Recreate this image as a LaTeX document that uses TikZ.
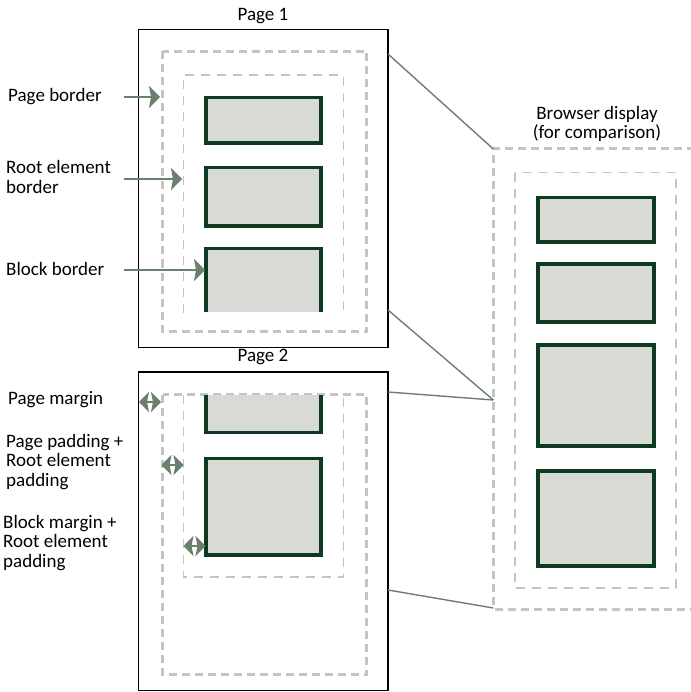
\documentclass[tikz,border=0pt]{standalone}
\usepackage{fontspec}
\setmainfont{Carlito}
\usetikzlibrary{arrows.meta}

\definecolor{blockgreen}{HTML}{0E3B20}
\definecolor{blockfill}{HTML}{D8DAD5}
\definecolor{dashgray}{HTML}{C4C4C4}
\definecolor{pointgreen}{HTML}{6B806C}

\begin{document}
\begin{tikzpicture}[x=1pt, y=-1pt,
    page/.style={draw=black, line width=1.6pt},
    outerdash/.style={draw=dashgray, line width=3pt, dash pattern=on 8pt off 5pt},
    innerdash/.style={draw=dashgray, line width=1.6pt, dash pattern=on 9pt off 7pt},
    block/.style={draw=blockgreen, line width=3.6pt},
    blockbg/.style={fill=blockfill},
    lbl/.style={font=\fontsize{19}{19.8}\selectfont, align=left, anchor=west, inner sep=0pt},
    title/.style={font=\fontsize{19}{19}\selectfont, align=center, inner sep=0pt},
    pointer/.style={draw=pointgreen, line width=1.6pt, -{Stealth[length=11pt, width=22pt, inset=2pt]}},
    gap/.style={draw=pointgreen, line width=1.6pt, {Stealth[length=10pt, width=20pt, inset=2pt]}-{Stealth[length=10pt, width=20pt, inset=2pt]}},
    link/.style={draw=pointgreen, line width=1.4pt}]
    \useasboundingbox (0,0) rectangle (690,692);

    % Page 1
    \node[title] (p1title) at (263,16) {Page 1};
    \draw[page] (138.5,29.5) rectangle (388,347.5);
    \draw[outerdash] (162.5,51.5) rectangle (366.5,331.5);
    \draw[innerdash] (183.3,313) -- (183.3,75) -- (343.5,75) -- (343.5,313);
    \foreach \a/\b in {97.5/143, 167.5/226} {
        \filldraw[block, blockbg] (206,\a) rectangle (321,\b);
    }
    \fill[blockbg] (206,248.5) rectangle (321,312);
    \draw[block] (206,312) -- (206,248.5) -- (321,248.5) -- (321,312);

    % Page 2
    \node[title] (p2title) at (263,357) {Page 2};
    \draw[page] (138.5,372) rectangle (388,690.5);
    \draw[outerdash] (162.5,394.5) rectangle (366.5,674.5);
    \draw[innerdash] (183.3,395) -- (183.3,576.7) -- (343.5,576.7) -- (343.5,395);
    \fill[blockbg] (206,395) rectangle (321,432.5);
    \draw[block] (206,395) -- (206,432.5) -- (321,432.5) -- (321,395);
    \filldraw[block, blockbg] (206,458.5) rectangle (321,555);

    % Browser display
    \node[title] (browser) at (597,124) {Browser display\\(for comparison)};
    \draw[outerdash] (695,149) -- (493.3,149) -- (493.3,609) -- (695,609);
    \draw[innerdash] (515,172.7) rectangle (676,588);
    \foreach \a/\b in {197.5/242, 264/322, 345/446, 471/566} {
        \filldraw[block, blockbg] (538,\a) rectangle (654,\b);
    }

    % Links between pages and browser
    \coordinate (p1top) at (388,54);
    \coordinate (p1bot) at (388,310);
    \coordinate (p2top) at (388,392);
    \coordinate (p2bot) at (388,590);
    \coordinate (brtop) at (493.3,149);
    \coordinate (brmid) at (493.3,400);
    \coordinate (brbot) at (493.3,608);
    \draw[link] (p1top) -- (brtop);
    \draw[link] (p1bot) -- (brmid);
    \draw[link] (p2top) -- (brmid);
    \draw[link] (p2bot) -- (brbot);

    % Labels with pointers
    \node[lbl] (pborder) at (8,97) {Page border};
    \node[lbl] (rborder) at (6,177) {Root element\\border};
    \node[lbl] (bborder) at (6,269) {Block border};
    \coordinate (pbtip) at (160,97);
    \coordinate (rbtip) at (182,179);
    \coordinate (bbtip) at (205,270);
    \draw[pointer] (124,97) -- (pbtip);
    \draw[pointer] (124,179) -- (rbtip);
    \draw[pointer] (124,270) -- (bbtip);

    % Labels with gaps
    \node[lbl] (pmargin) at (8,400) {Page margin};
    \node[lbl] (ppadding) at (6,462) {Page padding +\\Root element\\padding};
    \node[lbl] (bmargin) at (3,543) {Block margin +\\Root element\\padding};
    \draw[gap] (139,402) -- (161,402);
    \draw[gap] (161.5,465) -- (183.5,465);
    \draw[gap] (183.5,546) -- (205.5,546);
\end{tikzpicture}
\end{document}
